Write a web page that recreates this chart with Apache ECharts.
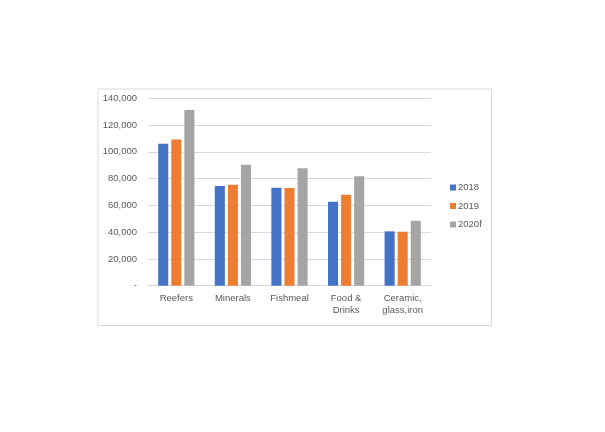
<!DOCTYPE html>
<html><head><meta charset="utf-8">
<script src="https://cdn.jsdelivr.net/npm/echarts@6/dist/echarts.min.js"></script>
<style>html,body{margin:0;padding:0;background:#fff;}#c{width:605px;height:432px;}</style>
</head><body><div id="c"></div>
<script>
var categories = ['Reefers', 'Minerals', 'Fishmeal', 'Food &\nDrinks', 'Ceramic,\nglass,iron'];
var seriesNames = ['2018', '2019', '2020f'];
var v2018 = [106000, 74500, 73200, 62700, 40600];
var v2019 = [109300, 75400, 72900, 68000, 40300];
var v2020f = [131200, 90400, 87700, 81700, 48500];
var colors = ['#4472C4', '#ED7D31', '#A5A5A5'];

var chart = echarts.init(document.getElementById('c'), null, {renderer: 'canvas'});
var txt = '#595959';
chart.setOption({
  animation: false,
  backgroundColor: '#fff',
  color: colors,
  graphic: [{
    type: 'rect', left: 95.5, top: 86.5,
    shape: {width: 393.5, height: 236.5},
    style: {fill: 'none', stroke: '#d9d9d9', lineWidth: 1}, silent: true, z: -1
  }],
  grid: {left: 148, top: 98.3, width: 283, height: 187.4, containLabel: false},
  legend: {
    orient: 'vertical', left: 445, top: 177.5,
    itemWidth: 6, itemHeight: 6, itemGap: 8.5,
    icon: 'rect',
    textStyle: {color: txt, fontSize: 9.5, fontFamily: 'Liberation Sans, Arial, sans-serif', padding: [0,0,0,-3], lineHeight: 10},
    data: seriesNames
  },
  xAxis: {
    type: 'category', data: categories,
    axisLine: {lineStyle: {color: '#d9d9d9'}},
    axisTick: {show: false},
    axisLabel: {color: txt, fontSize: 9.5, margin: 7, lineHeight: 12, fontFamily: 'Liberation Sans, Arial, sans-serif'}
  },
  yAxis: {
    type: 'value', min: 0, max: 140000, interval: 20000,
    axisLine: {show: false}, axisTick: {show: false},
    splitLine: {lineStyle: {color: '#d9d9d9'}},
    axisLabel: {
      color: txt, fontSize: 9.5, margin: 11, fontFamily: 'Liberation Sans, Arial, sans-serif',
      formatter: function (v) { return v === 0 ? '-' : v.toString().replace(/\B(?=(\d{3})+(?!\d))/g, ','); }
    }
  },
  series: [
    {name: seriesNames[0], type: 'bar', data: v2018, barGap: '30%', barCategoryGap: '36%'},
    {name: seriesNames[1], type: 'bar', data: v2019, barGap: '30%', barCategoryGap: '36%'},
    {name: seriesNames[2], type: 'bar', data: v2020f, barGap: '30%', barCategoryGap: '36%'}
  ]
});
</script></body></html>
